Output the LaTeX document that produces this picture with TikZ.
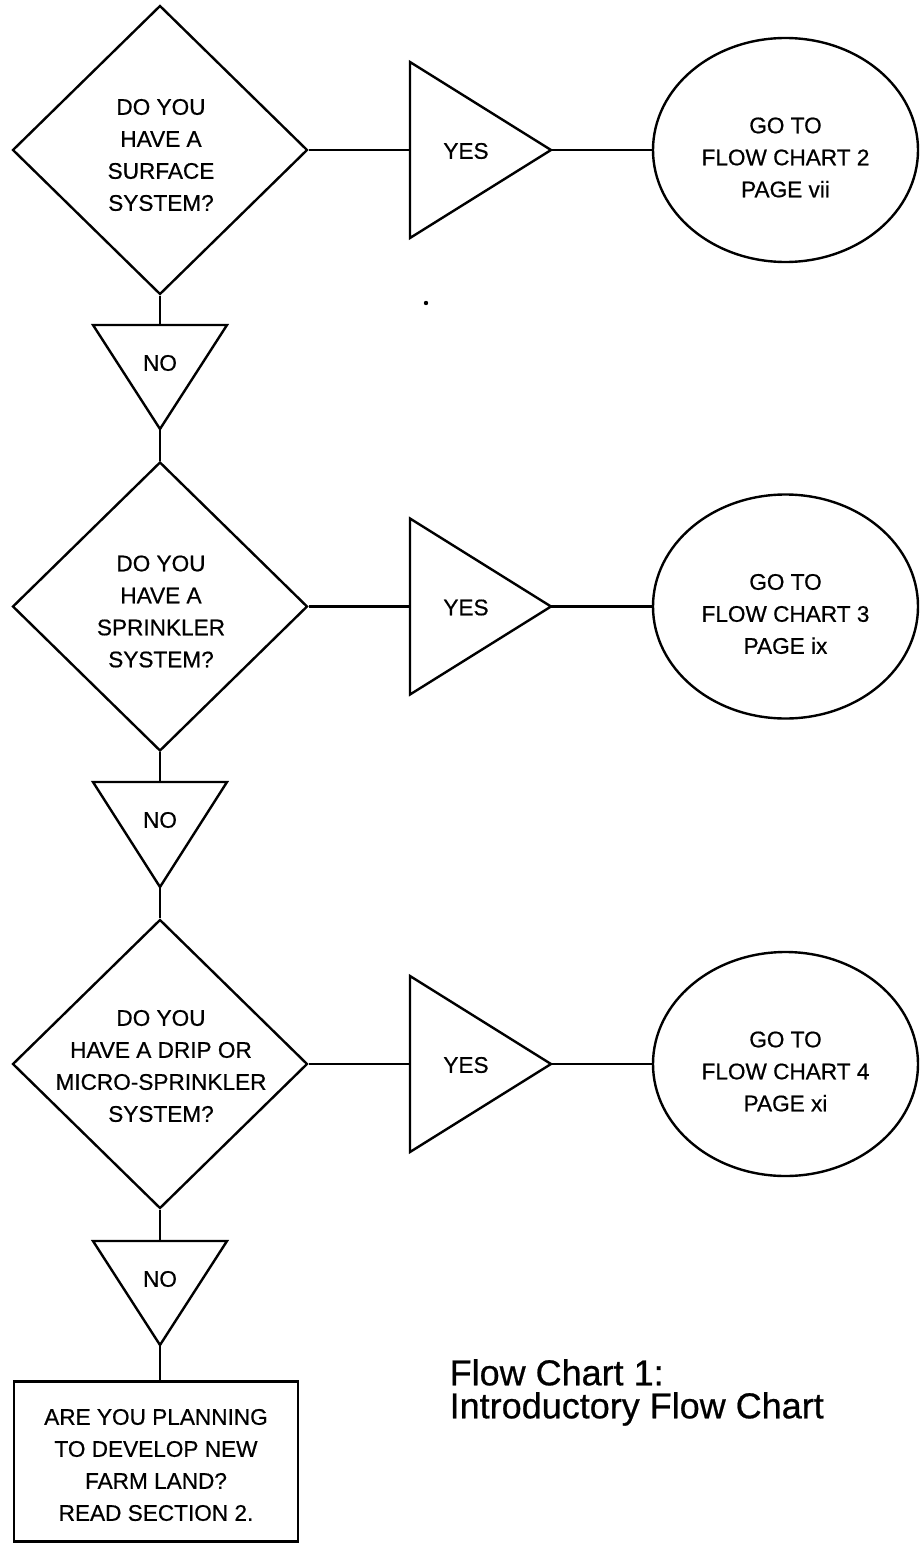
\documentclass[tikz,border=0pt]{standalone}
\usepackage{fontspec}
\setmainfont{Liberation Sans}[FakeBold=0.6]
\usetikzlibrary{shapes.geometric}
\begin{document}
\begin{tikzpicture}[x=1pt,y=-1pt,line width=2.4pt,line join=miter,
  decision/.style={draw,diamond,inner sep=0pt,minimum width=295pt,minimum height=289pt},
  gotobox/.style={draw,ellipse,inner sep=0pt,minimum width=265pt,minimum height=224pt},
  endbox/.style={draw,rectangle,inner sep=0pt,minimum width=284pt,minimum height=160pt},
  boxtext/.style={align=center,inner sep=0pt,font=\fontsize{22.6}{32}\selectfont},
  titletext/.style={align=left,inner sep=0pt,font=\fontsize{36}{33}\selectfont},
  flow/.style={draw}]
\useasboundingbox (0,0) rectangle (919,1544);

% ---- first question ----
\node[decision] (d1) at (160,150) {};
\node[boxtext] (d1t) at (161,155) {DO YOU\\HAVE A\\SURFACE\\SYSTEM?};
\coordinate (y1b) at (410,150);
\coordinate (y1a) at (551,150);
\draw (410,62) -- (y1a) -- (410,238) -- cycle;
\node[boxtext] (yes1) at (466,151) {YES};
\node[gotobox] (e1) at (785.5,150) {};
\node[boxtext] (e1t) at (785.5,157.5) {GO TO\\FLOW CHART 2\\PAGE vii};
\coordinate (n1b) at (160,325);
\coordinate (n1a) at (160,429);
\draw (93,325) -- (227,325) -- (n1a) -- cycle;
\node[boxtext] (no1) at (160,363) {NO};

% ---- second question ----
\node[decision] (d2) at (160,606.5) {};
\node[boxtext] (d2t) at (161,611.5) {DO YOU\\HAVE A\\SPRINKLER\\SYSTEM?};
\coordinate (y2b) at (410,606.5);
\coordinate (y2a) at (551,606.5);
\draw (410,518.5) -- (y2a) -- (410,694.5) -- cycle;
\node[boxtext] (yes2) at (466,607.5) {YES};
\node[gotobox] (e2) at (785.5,606.5) {};
\node[boxtext] (e2t) at (785.5,614) {GO TO\\FLOW CHART 3\\PAGE ix};
\coordinate (n2b) at (160,782);
\coordinate (n2a) at (160,887);
\draw (93,782) -- (227,782) -- (n2a) -- cycle;
\node[boxtext] (no2) at (160,820) {NO};

% ---- third question ----
\node[decision] (d3) at (160,1064) {};
\node[boxtext] (d3t) at (161,1066) {DO YOU\\HAVE A DRIP OR\\MICRO-SPRINKLER\\SYSTEM?};
\coordinate (y3b) at (410,1064);
\coordinate (y3a) at (551,1064);
\draw (410,976) -- (y3a) -- (410,1152) -- cycle;
\node[boxtext] (yes3) at (466,1065) {YES};
\node[gotobox] (e3) at (785.5,1064) {};
\node[boxtext] (e3t) at (785.5,1071.5) {GO TO\\FLOW CHART 4\\PAGE xi};
\coordinate (n3b) at (160,1241);
\coordinate (n3a) at (160,1345);
\draw (93,1241) -- (227,1241) -- (n3a) -- cycle;
\node[boxtext] (no3) at (160,1279) {NO};

% ---- final box ----
\node[endbox] (r) at (156,1461.5) {};
\node[boxtext] (rt) at (156,1465) {ARE YOU PLANNING\\TO DEVELOP NEW\\FARM LAND?\\READ SECTION 2.};

% ---- connectors ----
\draw[flow] (d1.east) -- (y1b);
\draw[flow] (y1a) -- (e1.west);
\draw[flow] (d1.south) -- (n1b);
\draw[flow] (n1a) -- (d2.north);
\draw[flow] (d2.east) -- (y2b);
\draw[flow] (y2a) -- (e2.west);
\draw[flow] (d2.south) -- (n2b);
\draw[flow] (n2a) -- (d3.north);
\draw[flow] (d3.east) -- (y3b);
\draw[flow] (y3a) -- (e3.west);
\draw[flow] (d3.south) -- (n3b);
\draw[flow] (n3a) -- (n3a |- r.north);

% ---- stray ink dot and caption ----
\fill (426,303) circle (2.2pt);
\node[titletext,anchor=north east] (title) at (825,1358) {Flow Chart 1:\\Introductory Flow Chart};
\end{tikzpicture}
\end{document}
